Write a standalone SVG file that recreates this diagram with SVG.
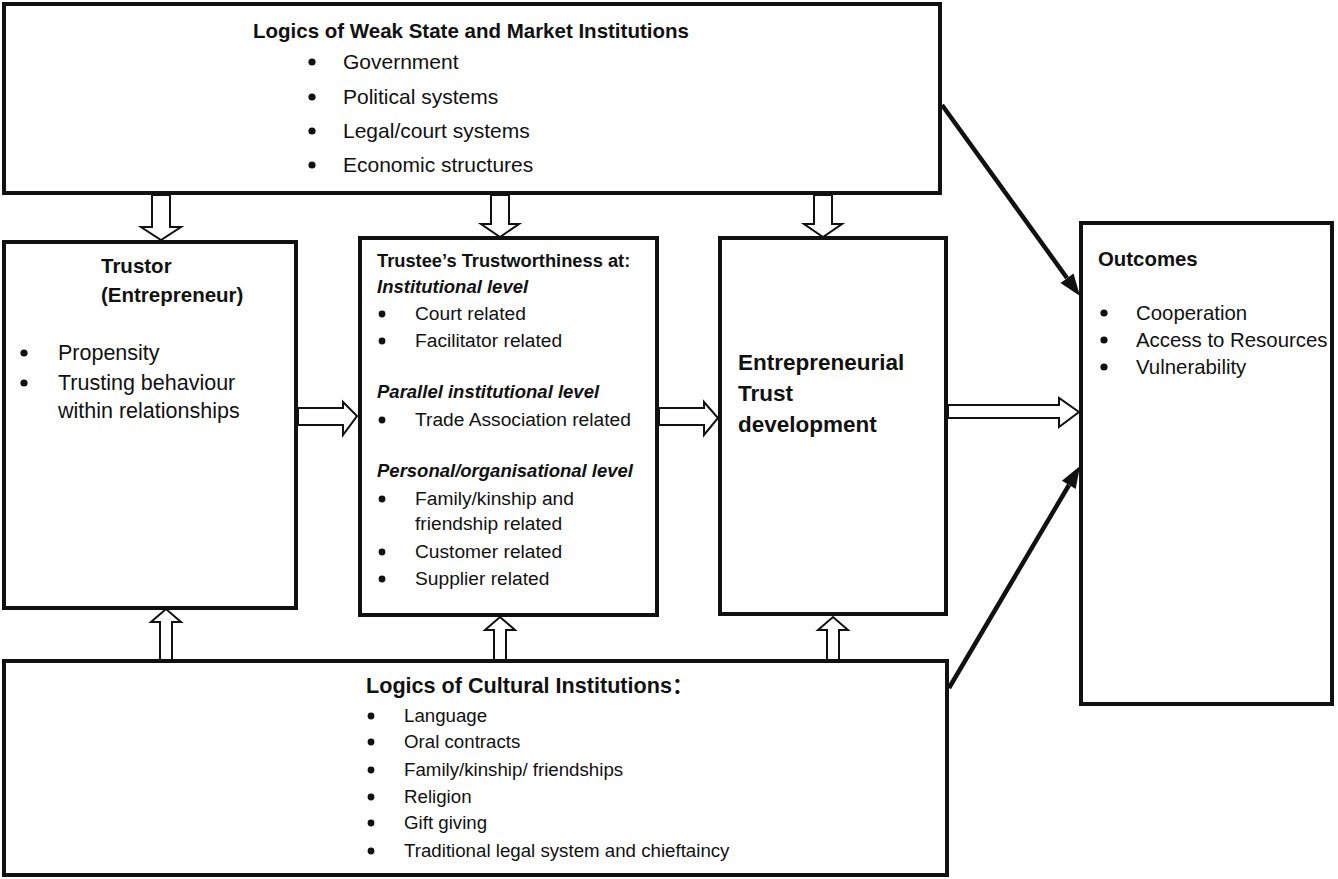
<svg xmlns="http://www.w3.org/2000/svg" width="1338" height="879" viewBox="0 0 1338 879">
<defs>
<style>
.box{fill:#fff;stroke:#111;stroke-width:4}
.blk{fill:#fff;stroke:#111;stroke-width:2;stroke-linejoin:miter}
.ln{stroke:#111;stroke-width:4.5;fill:none}
.hd{fill:#111;stroke:none}
text{font-family:"Liberation Sans",Arial,"Noto Sans CJK SC",sans-serif;fill:#111}
.b{font-weight:bold}
.bi{font-weight:bold;font-style:italic}
.dot{fill:#111}
</style>
</defs>
<rect width="1338" height="879" fill="#fff"/>

<g id="connectors">
  <!-- top to middle (down block arrows) -->
  <polygon class="blk" points="152,195 170,195 170,227 181,227 161,240 141,227 152,227"/>
  <polygon class="blk" points="491,195 509,195 509,224 519,224 500,237 481,224 491,224"/>
  <polygon class="blk" points="814,195 832,195 832,224 842,224 823,237 804,224 814,224"/>
  <!-- bottom to middle (up block arrows) -->
  <polygon class="blk" points="160,661 172,661 172,622 181,622 166,609 151,622 160,622"/>
  <polygon class="blk" points="494,661 506,661 506,630 515,630 500,617 485,630 494,630"/>
  <polygon class="blk" points="827,661 839,661 839,630 848,630 833,617 818,630 827,630"/>
  <!-- horizontal block arrows -->
  <polygon class="blk" points="298,408 343,408 343,402 357,416 343,435 343,425 298,425"/>
  <polygon class="blk" points="659,408 704,408 704,402 718,418 704,435 704,425 659,425"/>
  <polygon class="blk" points="948,405 1059,405 1059,398 1079,412 1059,427 1059,418 948,418"/>
  <!-- diagonal solid arrows -->
  <line class="ln" x1="942" y1="105" x2="1067" y2="278"/>
  <polygon class="hd" points="1080,296 1060.5,282.9 1073.5,273.5"/>
  <line class="ln" x1="949" y1="688" x2="1069" y2="485"/>
  <polygon class="hd" points="1080,466 1075.7,489 1061.9,480.8"/>
</g>

<g id="weak-state">
  <rect class="box" x="4" y="4" width="936" height="189"/>
  <text class="b" x="253" y="38" font-size="20.5">Logics of Weak State and Market Institutions</text>
  <circle class="dot" cx="312" cy="62" r="3.6"/>
  <text x="343" y="69" font-size="21">Government</text>
  <circle class="dot" cx="312" cy="97" r="3.6"/>
  <text x="343" y="104" font-size="21">Political systems</text>
  <circle class="dot" cx="312" cy="131" r="3.6"/>
  <text x="343" y="138" font-size="21">Legal/court systems</text>
  <circle class="dot" cx="312" cy="165" r="3.6"/>
  <text x="343" y="172" font-size="21">Economic structures</text>
</g>

<g id="trustor">
  <rect class="box" x="4" y="242" width="292" height="366"/>
  <text class="b" x="101" y="273" font-size="20.5">Trustor</text>
  <text class="b" x="101" y="302" font-size="20.5">(Entrepreneur)</text>
  <circle class="dot" cx="24" cy="353" r="3.6"/>
  <text x="58" y="360" font-size="21.5">Propensity</text>
  <circle class="dot" cx="24" cy="383" r="3.6"/>
  <text x="58" y="390" font-size="21.5">Trusting behaviour</text>
  <text x="58" y="418" font-size="21.5">within relationships</text>
</g>

<g id="trustee">
  <rect class="box" x="360" y="238" width="297" height="377"/>
  <text class="b" x="377" y="267" font-size="18.3">Trustee’s Trustworthiness at:</text>
  <text class="bi" x="377" y="293" font-size="18.5">Institutional level</text>
  <circle class="dot" cx="382" cy="314" r="3.4"/>
  <text x="415" y="320" font-size="19.2">Court related</text>
  <circle class="dot" cx="382" cy="341" r="3.4"/>
  <text x="415" y="347" font-size="19.2">Facilitator related</text>
  <text class="bi" x="377" y="398" font-size="18.5">Parallel institutional level</text>
  <circle class="dot" cx="382" cy="420" r="3.4"/>
  <text x="415" y="426" font-size="19.2">Trade Association related</text>
  <text class="bi" x="377" y="477" font-size="18.5">Personal/organisational level</text>
  <circle class="dot" cx="382" cy="499" r="3.4"/>
  <text x="415" y="505" font-size="19.2">Family/kinship and</text>
  <text x="415" y="530" font-size="19.2">friendship related</text>
  <circle class="dot" cx="382" cy="552" r="3.4"/>
  <text x="415" y="558" font-size="19.2">Customer related</text>
  <circle class="dot" cx="382" cy="579" r="3.4"/>
  <text x="415" y="585" font-size="19.2">Supplier related</text>
</g>

<g id="entrepreneurial-trust">
  <rect class="box" x="720" y="238" width="226" height="376"/>
  <text class="b" x="738" y="370" font-size="22.5">Entrepreneurial</text>
  <text class="b" x="738" y="401" font-size="22.5">Trust</text>
  <text class="b" x="738" y="432" font-size="22.5">development</text>
</g>

<g id="outcomes">
  <rect class="box" x="1081" y="223" width="251" height="481"/>
  <text class="b" x="1098" y="266" font-size="20.4">Outcomes</text>
  <circle class="dot" cx="1104" cy="313" r="3.6"/>
  <text x="1136" y="320" font-size="20.4">Cooperation</text>
  <circle class="dot" cx="1104" cy="340" r="3.6"/>
  <text x="1136" y="347" font-size="20.4">Access to Resources</text>
  <circle class="dot" cx="1104" cy="367" r="3.6"/>
  <text x="1136" y="374" font-size="20.4">Vulnerability</text>
</g>

<g id="cultural">
  <rect class="box" x="4" y="661" width="943" height="214"/>
  <text class="b" x="366" y="693" font-size="21.6">Logics of Cultural Institutions：</text>
  <circle class="dot" cx="371" cy="716" r="3.4"/>
  <text x="404" y="722" font-size="18.7">Language</text>
  <circle class="dot" cx="371" cy="742" r="3.4"/>
  <text x="404" y="748" font-size="18.7">Oral contracts</text>
  <circle class="dot" cx="371" cy="770" r="3.4"/>
  <text x="404" y="776" font-size="18.7">Family/kinship/ friendships</text>
  <circle class="dot" cx="371" cy="797" r="3.4"/>
  <text x="404" y="803" font-size="18.7">Religion</text>
  <circle class="dot" cx="371" cy="823" r="3.4"/>
  <text x="404" y="829" font-size="18.7">Gift giving</text>
  <circle class="dot" cx="371" cy="851" r="3.4"/>
  <text x="404" y="857" font-size="18.7">Traditional legal system and chieftaincy</text>
</g>
</svg>
